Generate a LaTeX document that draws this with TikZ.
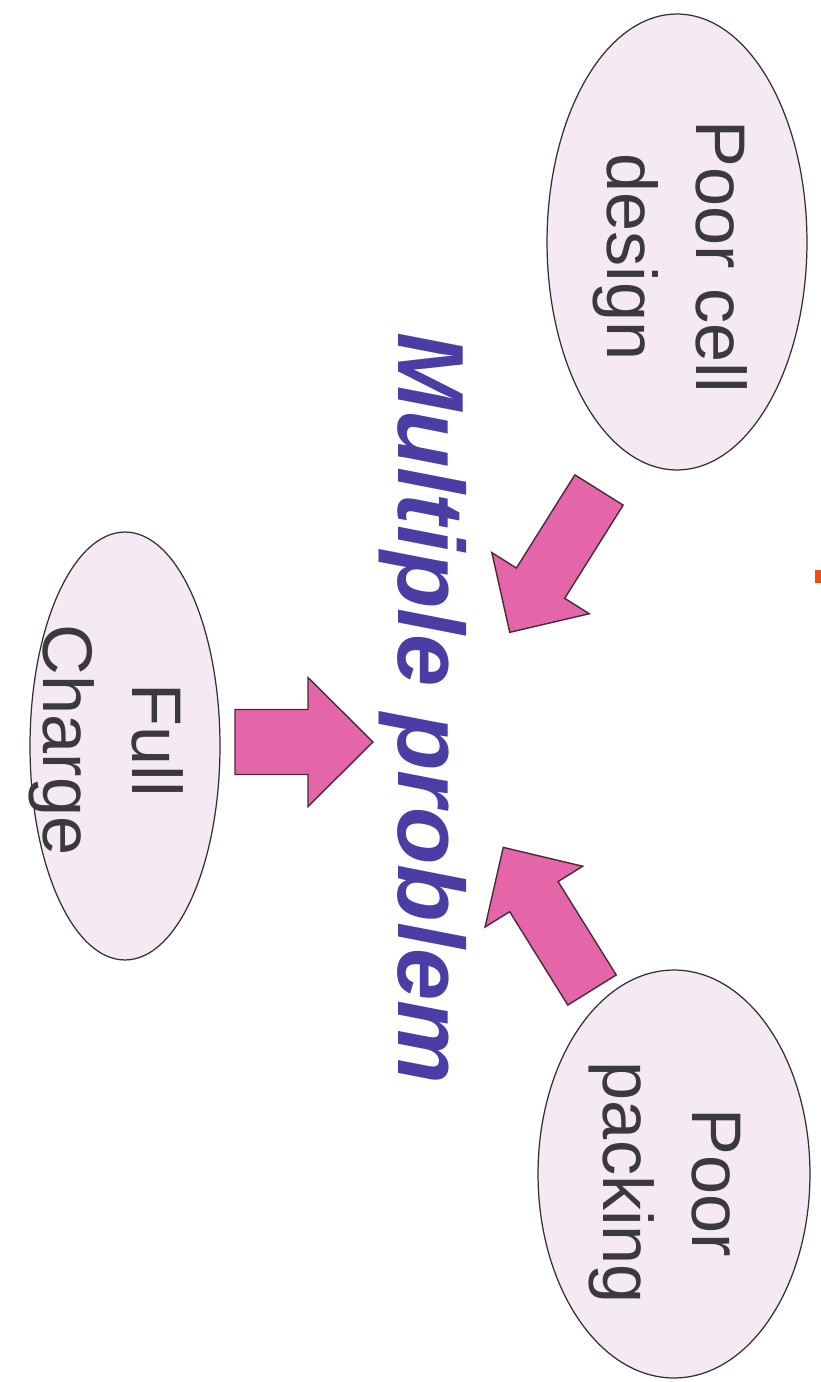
\documentclass[tikz,border=0pt]{standalone}
\usepackage{fontspec}
\setmainfont{Liberation Sans}
\usetikzlibrary{shapes.geometric}
\definecolor{bubblefill}{HTML}{F5E9F3}
\definecolor{bubbleline}{HTML}{303030}
\definecolor{bubbletext}{HTML}{3A3A3A}
\definecolor{titleblue}{HTML}{4A3DA3}
\definecolor{arrowpink}{HTML}{E466A8}
\definecolor{arrowline}{HTML}{4A2A3A}
\definecolor{markorange}{HTML}{E8501A}
\tikzset{
  bubble/.style={ellipse, draw=bubbleline, fill=bubblefill, line width=0.7pt, inner sep=0pt},
  bubbletxt/.style={text=bubbletext, rotate=-90, align=center, inner sep=0pt,
    font=\fontsize{40}{50.6}\selectfont},
  titletxt/.style={text=titleblue, rotate=-90, inner sep=0pt, anchor=base,
    font=\fontsize{53.5}{60}\selectfont\bfseries\itshape},
  blockarrow/.style={draw=arrowline, fill=arrowpink, line width=0.8pt, line join=miter}
}
\begin{document}
\begin{tikzpicture}[x=0.02cm, y=0.02cm]
\useasboundingbox[fill=white] (0,0) rectangle (821,-1382);
% ellipses
\node[bubble, minimum width=5.2cm, minimum height=9.12cm] (cell) at (677,-242) {};
\node[bubble, minimum width=3.8cm, minimum height=8.56cm] (charge) at (125,-746) {};
\node[bubble, minimum width=5.44cm, minimum height=8.16cm] (pack) at (674,-1174) {};
% texts
\node[bubbletxt] (celltxt) at (670,-257) {Poor cell\\design};
\node[bubbletxt] (chargetxt) at (106,-740) {Full\\Charge};
\node[bubbletxt] (packtxt) at (665,-1183) {Poor\\packing};
\node[titletxt] (title) at (398,-708) {Multiple problem};
% block arrows
\begin{scope}[shift={(599,-490)}, rotate=237.9]
  \draw[blockarrow] (0,-28.5) -- (110,-28.5) -- (110,-57.5) -- (168,0) -- (110,57.5) -- (110,28.5) -- (0,28.5) -- cycle;
\end{scope}
\begin{scope}[shift={(235,-742)}, rotate=0]
  \draw[blockarrow] (0,-32.5) -- (73,-32.5) -- (73,-64.5) -- (138,0) -- (73,64.5) -- (73,32.5) -- (0,32.5) -- cycle;
\end{scope}
\begin{scope}[shift={(592,-990)}, rotate=121.9]
  \draw[blockarrow] (0,-28.5) -- (110,-28.5) -- (110,-57.5) -- (168,0) -- (110,57.5) -- (110,28.5) -- (0,28.5) -- cycle;
\end{scope}
% small orange mark
\fill[markorange] (815,-570) rectangle (821,-583);
\end{tikzpicture}
\end{document}
